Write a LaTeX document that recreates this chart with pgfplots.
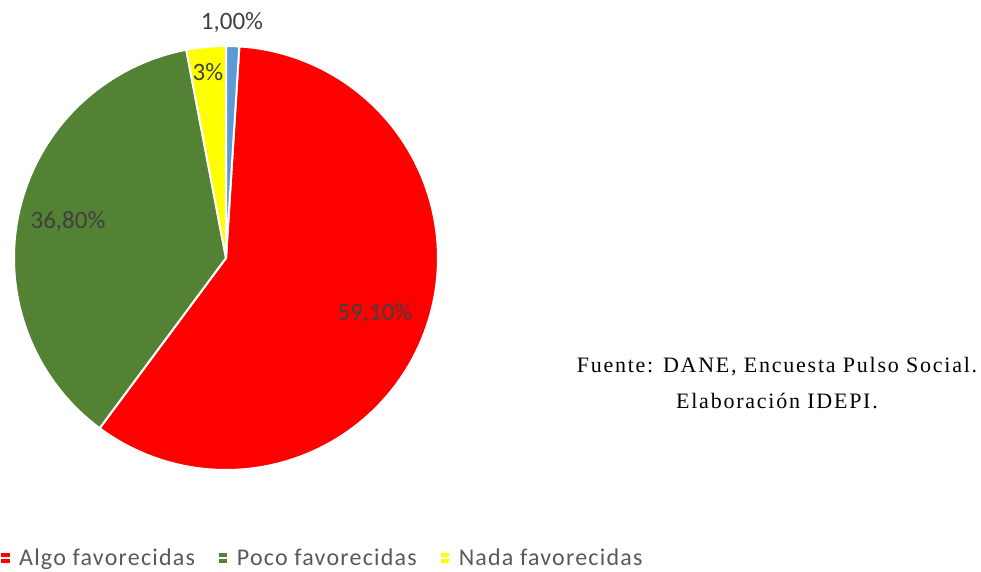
\documentclass[border=0pt]{standalone}
\usepackage{pgfplots}
\usepackage{pgfplotstable}
\pgfplotsset{compat=1.18}
\usepackage{fontspec}
\setmainfont{Carlito}
\newfontfamily\legfont{Carlito}[LetterSpace=5]
\newfontfamily\srcfont{Liberation Serif}[LetterSpace=8]
\definecolor{cRed}{HTML}{FF0000}
\definecolor{cGreen}{HTML}{548235}
\definecolor{cYellow}{HTML}{FFFF00}
\definecolor{cBlue}{HTML}{5B9BD5}
\definecolor{lblGray}{HTML}{404040}
\definecolor{legGray}{HTML}{595959}

\pgfplotstableread{
name value
Algo 59.1
Poco 36.8
Nada 3.0
Otro 1.0
}\piedata

\begin{document}
\begin{tikzpicture}
\pgfplotstablegetelem{0}{value}\of\piedata \let\vA\pgfplotsretval
\pgfplotstablegetelem{1}{value}\of\piedata \let\vB\pgfplotsretval
\pgfplotstablegetelem{2}{value}\of\piedata \let\vC\pgfplotsretval
\pgfplotstablegetelem{3}{value}\of\piedata \let\vD\pgfplotsretval
\pgfmathsetmacro{\tot}{\vA+\vB+\vC+\vD}
\pgfmathsetmacro{\aZero}{90}
\pgfmathsetmacro{\aOne}{\aZero-360*(\vD/\tot)}
\pgfmathsetmacro{\aTwo}{\aOne-360*(\vA/\tot)}
\pgfmathsetmacro{\aThree}{\aTwo-360*(\vB/\tot)}
\pgfmathsetmacro{\aFour}{\aThree-360*(\vC/\tot)}
\def\cx{226}\def\cy{314}\def\rr{212}
\begin{axis}[
  width=981pt, height=572pt, scale only axis,
  xmin=0, xmax=981, ymin=0, ymax=572,
  hide axis, clip=false,
  legend columns=-1,
  legend style={at={(axis cs:0,14)}, anchor=west, draw=none, fill=none,
    font=\legfont\fontsize{24}{28}\selectfont\color{legGray}, inner sep=0pt,
    nodes={inner sep=0pt},
    /tikz/every even column/.append style={column sep=23pt}},
  legend image code/.code={\fill[#1,draw=none] (0pt,-5pt) rectangle (8.5pt,4.5pt);
    \path (0pt,0pt) -- (17pt,0pt);},
]
\addplot[fill=cRed, draw=white, line width=2pt, domain=\aTwo:\aOne, samples=120]
  ({\cx+\rr*cos(x)},{\cy+\rr*sin(x)}) -- (axis cs:\cx,\cy) -- cycle;
\addlegendentry{Algo favorecidas}
\addplot[fill=cGreen, draw=white, line width=2pt, domain=\aThree:\aTwo, samples=90]
  ({\cx+\rr*cos(x)},{\cy+\rr*sin(x)}) -- (axis cs:\cx,\cy) -- cycle;
\addlegendentry{Poco favorecidas}
\addplot[fill=cYellow, draw=white, line width=2pt, domain=\aFour:\aThree, samples=20]
  ({\cx+\rr*cos(x)},{\cy+\rr*sin(x)}) -- (axis cs:\cx,\cy) -- cycle;
\addlegendentry{Nada favorecidas}
\addplot[forget plot, fill=cBlue, draw=white, line width=2pt, domain=\aOne:\aZero, samples=10]
  ({\cx+\rr*cos(x)},{\cy+\rr*sin(x)}) -- (axis cs:\cx,\cy) -- cycle;

\begin{scope}[every node/.style={font=\fontsize{25}{28}\selectfont, text=lblGray}]
\node at (axis cs:232,549) {1,00\%};
\node at (axis cs:208,500) {3\%};
\node at (axis cs:68,350) {36,80\%};
\node at (axis cs:375,258) {59,10\%};
\end{scope}
\node[font=\srcfont\fontsize{22}{36}\selectfont, align=center, anchor=center]
  at (axis cs:777,189) {Fuente: DANE, Encuesta Pulso Social.\\Elaboración IDEPI.};
\end{axis}
\pgfresetboundingbox
\useasboundingbox (0,0) rectangle (981pt,572pt);
\end{tikzpicture}
\end{document}
